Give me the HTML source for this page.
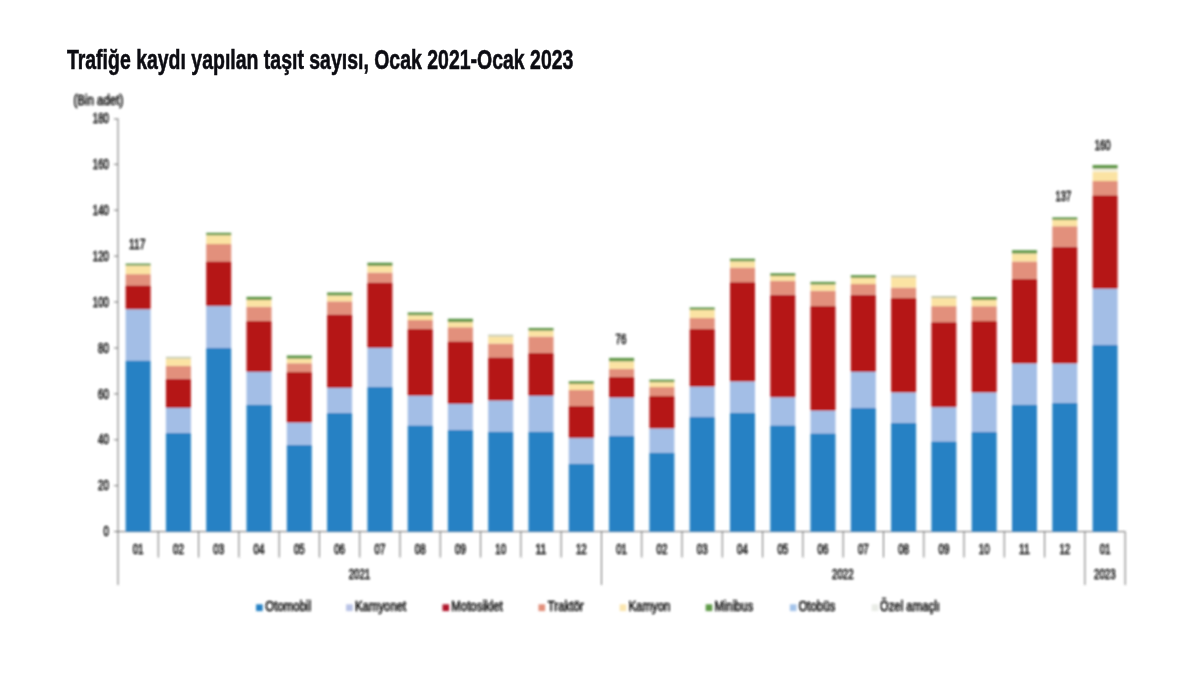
<!DOCTYPE html>
<html lang="tr"><head><meta charset="utf-8">
<title>Trafiğe kaydı yapılan taşıt sayısı</title>
<style>
html,body{margin:0;padding:0;background:#fff;}
body{width:1200px;height:675px;overflow:hidden;}
svg{display:block;}
text{font-family:"Liberation Sans",sans-serif;fill:#111111;}
.t{font-size:14px;stroke:#111;stroke-width:0.7px;}
.ttl{font-size:27px;font-weight:bold;fill:#0c0c12;stroke:#0c0c12;stroke-width:0.6px;}
</style></head><body>
<svg width="1200" height="675" viewBox="0 0 1200 675">
<rect width="1200" height="675" fill="#ffffff"/>
<text class="ttl" x="66.9" y="68.7" text-anchor="start" textLength="506.5" lengthAdjust="spacingAndGlyphs">Trafiğe kaydı yapılan taşıt sayısı, Ocak 2021-Ocak 2023</text>
<g id="chart" filter="url(#soft)">
<text class="t" x="73.4" y="105.1" text-anchor="start" textLength="50.0" lengthAdjust="spacingAndGlyphs">(Bin adet)</text>
<g stroke="#585858" stroke-width="0.85" fill="none">
<line x1="118.0" y1="118.6" x2="118.0" y2="585"/>
<line x1="114.0" y1="531.6" x2="118.0" y2="531.6"/>
<line x1="114.0" y1="485.7" x2="118.0" y2="485.7"/>
<line x1="114.0" y1="439.8" x2="118.0" y2="439.8"/>
<line x1="114.0" y1="393.9" x2="118.0" y2="393.9"/>
<line x1="114.0" y1="348.0" x2="118.0" y2="348.0"/>
<line x1="114.0" y1="302.0" x2="118.0" y2="302.0"/>
<line x1="114.0" y1="256.1" x2="118.0" y2="256.1"/>
<line x1="114.0" y1="210.2" x2="118.0" y2="210.2"/>
<line x1="114.0" y1="164.3" x2="118.0" y2="164.3"/>
<line x1="114.0" y1="119.0" x2="118.0" y2="119.0"/>
<line x1="118.0" y1="531.6" x2="1125.2" y2="531.6"/>
<line x1="158.3" y1="531.6" x2="158.3" y2="557.5"/>
<line x1="198.6" y1="531.6" x2="198.6" y2="557.5"/>
<line x1="238.9" y1="531.6" x2="238.9" y2="557.5"/>
<line x1="279.2" y1="531.6" x2="279.2" y2="557.5"/>
<line x1="319.4" y1="531.6" x2="319.4" y2="557.5"/>
<line x1="359.7" y1="531.6" x2="359.7" y2="557.5"/>
<line x1="400.0" y1="531.6" x2="400.0" y2="557.5"/>
<line x1="440.3" y1="531.6" x2="440.3" y2="557.5"/>
<line x1="480.6" y1="531.6" x2="480.6" y2="557.5"/>
<line x1="520.9" y1="531.6" x2="520.9" y2="557.5"/>
<line x1="561.2" y1="531.6" x2="561.2" y2="557.5"/>
<line x1="601.5" y1="531.6" x2="601.5" y2="585.0"/>
<line x1="641.7" y1="531.6" x2="641.7" y2="557.5"/>
<line x1="682.0" y1="531.6" x2="682.0" y2="557.5"/>
<line x1="722.3" y1="531.6" x2="722.3" y2="557.5"/>
<line x1="762.6" y1="531.6" x2="762.6" y2="557.5"/>
<line x1="802.9" y1="531.6" x2="802.9" y2="557.5"/>
<line x1="843.2" y1="531.6" x2="843.2" y2="557.5"/>
<line x1="883.5" y1="531.6" x2="883.5" y2="557.5"/>
<line x1="923.8" y1="531.6" x2="923.8" y2="557.5"/>
<line x1="964.0" y1="531.6" x2="964.0" y2="557.5"/>
<line x1="1004.3" y1="531.6" x2="1004.3" y2="557.5"/>
<line x1="1044.6" y1="531.6" x2="1044.6" y2="557.5"/>
<line x1="1084.9" y1="531.6" x2="1084.9" y2="585.0"/>
<line x1="1125.2" y1="531.6" x2="1125.2" y2="585.0"/>
</g>
<rect x="125.6" y="360.4" width="25.0" height="171.2" fill="#2581c4"/>
<rect x="125.6" y="309.3" width="25.0" height="51.1" fill="#a3bee6"/>
<rect x="125.6" y="285.3" width="25.0" height="24.0" fill="#b51617"/>
<rect x="125.6" y="274.1" width="25.0" height="11.2" fill="#e2907c"/>
<rect x="125.6" y="265.6" width="25.0" height="8.5" fill="#fbe3a3"/>
<rect x="125.6" y="263.6" width="25.0" height="2.0" fill="#5f9646"/>
<rect x="165.9" y="432.8" width="25.0" height="98.8" fill="#2581c4"/>
<rect x="165.9" y="408.0" width="25.0" height="24.8" fill="#a3bee6"/>
<rect x="165.9" y="378.7" width="25.0" height="29.3" fill="#b51617"/>
<rect x="165.9" y="365.9" width="25.0" height="12.8" fill="#e2907c"/>
<rect x="165.9" y="358.6" width="25.0" height="7.3" fill="#fbe3a3"/>
<rect x="165.9" y="356.8" width="25.0" height="1.8" fill="#c3c8ac"/>
<rect x="206.2" y="348.0" width="25.0" height="183.6" fill="#2581c4"/>
<rect x="206.2" y="306.1" width="25.0" height="41.9" fill="#a3bee6"/>
<rect x="206.2" y="261.3" width="25.0" height="44.8" fill="#b51617"/>
<rect x="206.2" y="244.0" width="25.0" height="17.3" fill="#e2907c"/>
<rect x="206.2" y="235.2" width="25.0" height="8.8" fill="#fbe3a3"/>
<rect x="206.2" y="232.8" width="25.0" height="2.4" fill="#5f9646"/>
<rect x="246.5" y="404.5" width="25.0" height="127.1" fill="#2581c4"/>
<rect x="246.5" y="372.0" width="25.0" height="32.5" fill="#a3bee6"/>
<rect x="246.5" y="320.8" width="25.0" height="51.2" fill="#b51617"/>
<rect x="246.5" y="306.7" width="25.0" height="14.1" fill="#e2907c"/>
<rect x="246.5" y="300.0" width="25.0" height="6.7" fill="#fbe3a3"/>
<rect x="246.5" y="296.8" width="25.0" height="3.2" fill="#5f9646"/>
<rect x="286.8" y="444.8" width="25.0" height="86.8" fill="#2581c4"/>
<rect x="286.8" y="422.7" width="25.0" height="22.1" fill="#a3bee6"/>
<rect x="286.8" y="372.0" width="25.0" height="50.7" fill="#b51617"/>
<rect x="286.8" y="363.2" width="25.0" height="8.8" fill="#e2907c"/>
<rect x="286.8" y="358.7" width="25.0" height="4.5" fill="#fbe3a3"/>
<rect x="286.8" y="355.5" width="25.0" height="3.2" fill="#5f9646"/>
<rect x="327.1" y="412.8" width="25.0" height="118.8" fill="#2581c4"/>
<rect x="327.1" y="388.0" width="25.0" height="24.8" fill="#a3bee6"/>
<rect x="327.1" y="314.4" width="25.0" height="73.6" fill="#b51617"/>
<rect x="327.1" y="301.3" width="25.0" height="13.1" fill="#e2907c"/>
<rect x="327.1" y="295.5" width="25.0" height="5.8" fill="#fbe3a3"/>
<rect x="327.1" y="292.5" width="25.0" height="3.0" fill="#5f9646"/>
<rect x="367.4" y="386.7" width="25.0" height="144.9" fill="#2581c4"/>
<rect x="367.4" y="348.0" width="25.0" height="38.7" fill="#a3bee6"/>
<rect x="367.4" y="282.4" width="25.0" height="65.6" fill="#b51617"/>
<rect x="367.4" y="272.5" width="25.0" height="9.9" fill="#e2907c"/>
<rect x="367.4" y="265.9" width="25.0" height="6.6" fill="#fbe3a3"/>
<rect x="367.4" y="262.7" width="25.0" height="3.2" fill="#5f9646"/>
<rect x="407.7" y="425.3" width="25.0" height="106.3" fill="#2581c4"/>
<rect x="407.7" y="395.8" width="25.0" height="29.5" fill="#a3bee6"/>
<rect x="407.7" y="328.8" width="25.0" height="67.0" fill="#b51617"/>
<rect x="407.7" y="320.0" width="25.0" height="8.8" fill="#e2907c"/>
<rect x="407.7" y="315.2" width="25.0" height="4.8" fill="#fbe3a3"/>
<rect x="407.7" y="312.5" width="25.0" height="2.7" fill="#5f9646"/>
<rect x="447.9" y="429.9" width="25.0" height="101.7" fill="#2581c4"/>
<rect x="447.9" y="404.0" width="25.0" height="25.9" fill="#a3bee6"/>
<rect x="447.9" y="341.3" width="25.0" height="62.7" fill="#b51617"/>
<rect x="447.9" y="327.2" width="25.0" height="14.1" fill="#e2907c"/>
<rect x="447.9" y="322.1" width="25.0" height="5.1" fill="#fbe3a3"/>
<rect x="447.9" y="318.7" width="25.0" height="3.4" fill="#5f9646"/>
<rect x="488.2" y="431.5" width="25.0" height="100.1" fill="#2581c4"/>
<rect x="488.2" y="400.6" width="25.0" height="30.9" fill="#a3bee6"/>
<rect x="488.2" y="357.3" width="25.0" height="43.3" fill="#b51617"/>
<rect x="488.2" y="343.5" width="25.0" height="13.8" fill="#e2907c"/>
<rect x="488.2" y="336.5" width="25.0" height="7.0" fill="#fbe3a3"/>
<rect x="488.2" y="334.7" width="25.0" height="1.8" fill="#c3c8ac"/>
<rect x="528.5" y="431.5" width="25.0" height="100.1" fill="#2581c4"/>
<rect x="528.5" y="396.0" width="25.0" height="35.5" fill="#a3bee6"/>
<rect x="528.5" y="352.8" width="25.0" height="43.2" fill="#b51617"/>
<rect x="528.5" y="336.5" width="25.0" height="16.3" fill="#e2907c"/>
<rect x="528.5" y="330.7" width="25.0" height="5.8" fill="#fbe3a3"/>
<rect x="528.5" y="328.0" width="25.0" height="2.7" fill="#5f9646"/>
<rect x="568.8" y="463.5" width="25.0" height="68.1" fill="#2581c4"/>
<rect x="568.8" y="438.1" width="25.0" height="25.4" fill="#a3bee6"/>
<rect x="568.8" y="405.9" width="25.0" height="32.2" fill="#b51617"/>
<rect x="568.8" y="390.0" width="25.0" height="15.9" fill="#e2907c"/>
<rect x="568.8" y="384.0" width="25.0" height="6.0" fill="#fbe3a3"/>
<rect x="568.8" y="381.3" width="25.0" height="2.7" fill="#5f9646"/>
<rect x="609.1" y="436.0" width="25.0" height="95.6" fill="#2581c4"/>
<rect x="609.1" y="397.6" width="25.0" height="38.4" fill="#a3bee6"/>
<rect x="609.1" y="376.8" width="25.0" height="20.8" fill="#b51617"/>
<rect x="609.1" y="368.8" width="25.0" height="8.0" fill="#e2907c"/>
<rect x="609.1" y="361.3" width="25.0" height="7.5" fill="#fbe3a3"/>
<rect x="609.1" y="357.9" width="25.0" height="3.4" fill="#5f9646"/>
<rect x="649.4" y="452.5" width="25.0" height="79.1" fill="#2581c4"/>
<rect x="649.4" y="428.5" width="25.0" height="24.0" fill="#a3bee6"/>
<rect x="649.4" y="396.0" width="25.0" height="32.5" fill="#b51617"/>
<rect x="649.4" y="387.0" width="25.0" height="9.0" fill="#e2907c"/>
<rect x="649.4" y="382.1" width="25.0" height="4.9" fill="#fbe3a3"/>
<rect x="649.4" y="379.7" width="25.0" height="2.4" fill="#5f9646"/>
<rect x="689.7" y="417.0" width="25.0" height="114.6" fill="#2581c4"/>
<rect x="689.7" y="386.7" width="25.0" height="30.3" fill="#a3bee6"/>
<rect x="689.7" y="328.8" width="25.0" height="57.9" fill="#b51617"/>
<rect x="689.7" y="317.9" width="25.0" height="10.9" fill="#e2907c"/>
<rect x="689.7" y="309.9" width="25.0" height="8.0" fill="#fbe3a3"/>
<rect x="689.7" y="307.5" width="25.0" height="2.4" fill="#5f9646"/>
<rect x="730.0" y="412.6" width="25.0" height="119.0" fill="#2581c4"/>
<rect x="730.0" y="381.5" width="25.0" height="31.1" fill="#a3bee6"/>
<rect x="730.0" y="282.1" width="25.0" height="99.4" fill="#b51617"/>
<rect x="730.0" y="267.5" width="25.0" height="14.6" fill="#e2907c"/>
<rect x="730.0" y="261.3" width="25.0" height="6.2" fill="#fbe3a3"/>
<rect x="730.0" y="258.7" width="25.0" height="2.6" fill="#5f9646"/>
<rect x="770.3" y="425.3" width="25.0" height="106.3" fill="#2581c4"/>
<rect x="770.3" y="397.3" width="25.0" height="28.0" fill="#a3bee6"/>
<rect x="770.3" y="294.7" width="25.0" height="102.6" fill="#b51617"/>
<rect x="770.3" y="280.8" width="25.0" height="13.9" fill="#e2907c"/>
<rect x="770.3" y="276.0" width="25.0" height="4.8" fill="#fbe3a3"/>
<rect x="770.3" y="273.3" width="25.0" height="2.7" fill="#5f9646"/>
<rect x="810.5" y="433.3" width="25.0" height="98.3" fill="#2581c4"/>
<rect x="810.5" y="410.7" width="25.0" height="22.6" fill="#a3bee6"/>
<rect x="810.5" y="305.9" width="25.0" height="104.8" fill="#b51617"/>
<rect x="810.5" y="290.7" width="25.0" height="15.2" fill="#e2907c"/>
<rect x="810.5" y="284.5" width="25.0" height="6.2" fill="#fbe3a3"/>
<rect x="810.5" y="281.9" width="25.0" height="2.6" fill="#5f9646"/>
<rect x="850.8" y="408.0" width="25.0" height="123.6" fill="#2581c4"/>
<rect x="850.8" y="372.0" width="25.0" height="36.0" fill="#a3bee6"/>
<rect x="850.8" y="294.7" width="25.0" height="77.3" fill="#b51617"/>
<rect x="850.8" y="284.0" width="25.0" height="10.7" fill="#e2907c"/>
<rect x="850.8" y="277.9" width="25.0" height="6.1" fill="#fbe3a3"/>
<rect x="850.8" y="275.2" width="25.0" height="2.7" fill="#5f9646"/>
<rect x="891.1" y="422.7" width="25.0" height="108.9" fill="#2581c4"/>
<rect x="891.1" y="392.5" width="25.0" height="30.2" fill="#a3bee6"/>
<rect x="891.1" y="297.9" width="25.0" height="94.6" fill="#b51617"/>
<rect x="891.1" y="287.5" width="25.0" height="10.4" fill="#e2907c"/>
<rect x="891.1" y="277.3" width="25.0" height="10.2" fill="#fbe3a3"/>
<rect x="891.1" y="275.5" width="25.0" height="1.8" fill="#c3c8ac"/>
<rect x="931.4" y="441.3" width="25.0" height="90.3" fill="#2581c4"/>
<rect x="931.4" y="407.2" width="25.0" height="34.1" fill="#a3bee6"/>
<rect x="931.4" y="322.1" width="25.0" height="85.1" fill="#b51617"/>
<rect x="931.4" y="306.1" width="25.0" height="16.0" fill="#e2907c"/>
<rect x="931.4" y="298.1" width="25.0" height="8.0" fill="#fbe3a3"/>
<rect x="931.4" y="296.0" width="25.0" height="2.1" fill="#c3c8ac"/>
<rect x="971.7" y="432.0" width="25.0" height="99.6" fill="#2581c4"/>
<rect x="971.7" y="392.5" width="25.0" height="39.5" fill="#a3bee6"/>
<rect x="971.7" y="321.0" width="25.0" height="71.5" fill="#b51617"/>
<rect x="971.7" y="306.2" width="25.0" height="14.8" fill="#e2907c"/>
<rect x="971.7" y="300.0" width="25.0" height="6.2" fill="#fbe3a3"/>
<rect x="971.7" y="297.0" width="25.0" height="3.0" fill="#5f9646"/>
<rect x="1012.0" y="404.5" width="25.0" height="127.1" fill="#2581c4"/>
<rect x="1012.0" y="363.5" width="25.0" height="41.0" fill="#a3bee6"/>
<rect x="1012.0" y="278.8" width="25.0" height="84.7" fill="#b51617"/>
<rect x="1012.0" y="261.4" width="25.0" height="17.4" fill="#e2907c"/>
<rect x="1012.0" y="253.5" width="25.0" height="7.9" fill="#fbe3a3"/>
<rect x="1012.0" y="250.2" width="25.0" height="3.3" fill="#5f9646"/>
<rect x="1052.3" y="402.7" width="25.0" height="128.9" fill="#2581c4"/>
<rect x="1052.3" y="363.5" width="25.0" height="39.2" fill="#a3bee6"/>
<rect x="1052.3" y="246.7" width="25.0" height="116.8" fill="#b51617"/>
<rect x="1052.3" y="226.2" width="25.0" height="20.5" fill="#e2907c"/>
<rect x="1052.3" y="219.9" width="25.0" height="6.3" fill="#fbe3a3"/>
<rect x="1052.3" y="217.4" width="25.0" height="2.5" fill="#5f9646"/>
<rect x="1092.6" y="345.0" width="25.0" height="186.6" fill="#2581c4"/>
<rect x="1092.6" y="288.8" width="25.0" height="56.2" fill="#a3bee6"/>
<rect x="1092.6" y="195.2" width="25.0" height="93.6" fill="#b51617"/>
<rect x="1092.6" y="181.0" width="25.0" height="14.2" fill="#e2907c"/>
<rect x="1092.6" y="171.6" width="25.0" height="9.4" fill="#fbe3a3"/>
<rect x="1092.6" y="168.7" width="25.0" height="2.9" fill="#f4f0dc"/>
<rect x="1092.6" y="165.0" width="25.0" height="3.7" fill="#5f9646"/>
<text class="t" x="108.8" y="536.2" text-anchor="end" textLength="5.4" lengthAdjust="spacingAndGlyphs">0</text>
<text class="t" x="108.8" y="490.3" text-anchor="end" textLength="10.8" lengthAdjust="spacingAndGlyphs">20</text>
<text class="t" x="108.8" y="444.4" text-anchor="end" textLength="10.8" lengthAdjust="spacingAndGlyphs">40</text>
<text class="t" x="108.8" y="398.5" text-anchor="end" textLength="10.8" lengthAdjust="spacingAndGlyphs">60</text>
<text class="t" x="108.8" y="352.6" text-anchor="end" textLength="10.8" lengthAdjust="spacingAndGlyphs">80</text>
<text class="t" x="108.8" y="306.6" text-anchor="end" textLength="16.0" lengthAdjust="spacingAndGlyphs">100</text>
<text class="t" x="108.8" y="260.7" text-anchor="end" textLength="16.0" lengthAdjust="spacingAndGlyphs">120</text>
<text class="t" x="108.8" y="214.8" text-anchor="end" textLength="16.0" lengthAdjust="spacingAndGlyphs">140</text>
<text class="t" x="108.8" y="168.9" text-anchor="end" textLength="16.0" lengthAdjust="spacingAndGlyphs">160</text>
<text class="t" x="108.8" y="123.0" text-anchor="end" textLength="16.0" lengthAdjust="spacingAndGlyphs">180</text>
<text class="t" x="138.1" y="553.6" text-anchor="middle" textLength="10.8" lengthAdjust="spacingAndGlyphs">01</text>
<text class="t" x="178.4" y="553.6" text-anchor="middle" textLength="10.8" lengthAdjust="spacingAndGlyphs">02</text>
<text class="t" x="218.7" y="553.6" text-anchor="middle" textLength="10.8" lengthAdjust="spacingAndGlyphs">03</text>
<text class="t" x="259.0" y="553.6" text-anchor="middle" textLength="10.8" lengthAdjust="spacingAndGlyphs">04</text>
<text class="t" x="299.3" y="553.6" text-anchor="middle" textLength="10.8" lengthAdjust="spacingAndGlyphs">05</text>
<text class="t" x="339.6" y="553.6" text-anchor="middle" textLength="10.8" lengthAdjust="spacingAndGlyphs">06</text>
<text class="t" x="379.9" y="553.6" text-anchor="middle" textLength="10.8" lengthAdjust="spacingAndGlyphs">07</text>
<text class="t" x="420.2" y="553.6" text-anchor="middle" textLength="10.8" lengthAdjust="spacingAndGlyphs">08</text>
<text class="t" x="460.4" y="553.6" text-anchor="middle" textLength="10.8" lengthAdjust="spacingAndGlyphs">09</text>
<text class="t" x="500.7" y="553.6" text-anchor="middle" textLength="10.8" lengthAdjust="spacingAndGlyphs">10</text>
<text class="t" x="541.0" y="553.6" text-anchor="middle" textLength="10.8" lengthAdjust="spacingAndGlyphs">11</text>
<text class="t" x="581.3" y="553.6" text-anchor="middle" textLength="10.8" lengthAdjust="spacingAndGlyphs">12</text>
<text class="t" x="621.6" y="553.6" text-anchor="middle" textLength="10.8" lengthAdjust="spacingAndGlyphs">01</text>
<text class="t" x="661.9" y="553.6" text-anchor="middle" textLength="10.8" lengthAdjust="spacingAndGlyphs">02</text>
<text class="t" x="702.2" y="553.6" text-anchor="middle" textLength="10.8" lengthAdjust="spacingAndGlyphs">03</text>
<text class="t" x="742.5" y="553.6" text-anchor="middle" textLength="10.8" lengthAdjust="spacingAndGlyphs">04</text>
<text class="t" x="782.8" y="553.6" text-anchor="middle" textLength="10.8" lengthAdjust="spacingAndGlyphs">05</text>
<text class="t" x="823.0" y="553.6" text-anchor="middle" textLength="10.8" lengthAdjust="spacingAndGlyphs">06</text>
<text class="t" x="863.3" y="553.6" text-anchor="middle" textLength="10.8" lengthAdjust="spacingAndGlyphs">07</text>
<text class="t" x="903.6" y="553.6" text-anchor="middle" textLength="10.8" lengthAdjust="spacingAndGlyphs">08</text>
<text class="t" x="943.9" y="553.6" text-anchor="middle" textLength="10.8" lengthAdjust="spacingAndGlyphs">09</text>
<text class="t" x="984.2" y="553.6" text-anchor="middle" textLength="10.8" lengthAdjust="spacingAndGlyphs">10</text>
<text class="t" x="1024.5" y="553.6" text-anchor="middle" textLength="10.8" lengthAdjust="spacingAndGlyphs">11</text>
<text class="t" x="1064.8" y="553.6" text-anchor="middle" textLength="10.8" lengthAdjust="spacingAndGlyphs">12</text>
<text class="t" x="1105.1" y="553.6" text-anchor="middle" textLength="10.8" lengthAdjust="spacingAndGlyphs">01</text>
<text class="t" x="359.4" y="579.4" text-anchor="middle" textLength="21.4" lengthAdjust="spacingAndGlyphs">2021</text>
<text class="t" x="842.8" y="579.4" text-anchor="middle" textLength="21.4" lengthAdjust="spacingAndGlyphs">2022</text>
<text class="t" x="1104.8" y="579.4" text-anchor="middle" textLength="21.4" lengthAdjust="spacingAndGlyphs">2023</text>
<text class="t" x="137.3" y="249.0" text-anchor="middle" textLength="16.4" lengthAdjust="spacingAndGlyphs">117</text>
<text class="t" x="621.0" y="344.0" text-anchor="middle" textLength="10.8" lengthAdjust="spacingAndGlyphs">76</text>
<text class="t" x="1063.4" y="200.8" text-anchor="middle" textLength="15.8" lengthAdjust="spacingAndGlyphs">137</text>
<text class="t" x="1102.6" y="149.8" text-anchor="middle" textLength="15.8" lengthAdjust="spacingAndGlyphs">160</text>
<rect x="256.1" y="604.3" width="6.6" height="6.8" fill="#2581c4"/>
<text class="t" x="265.3" y="611.3" text-anchor="start" textLength="45.8" lengthAdjust="spacingAndGlyphs">Otomobil</text>
<rect x="346.1" y="604.3" width="6.6" height="6.8" fill="#b9c3e6"/>
<text class="t" x="355.0" y="611.3" text-anchor="start" textLength="51.3" lengthAdjust="spacingAndGlyphs">Kamyonet</text>
<rect x="442.5" y="604.3" width="6.6" height="6.8" fill="#b0122c"/>
<text class="t" x="451.3" y="611.3" text-anchor="start" textLength="51.4" lengthAdjust="spacingAndGlyphs">Motosiklet</text>
<rect x="538.5" y="604.3" width="6.6" height="6.8" fill="#e2907c"/>
<text class="t" x="547.8" y="611.3" text-anchor="start" textLength="35.8" lengthAdjust="spacingAndGlyphs">Traktör</text>
<rect x="619.7" y="604.3" width="6.6" height="6.8" fill="#fbe6b0"/>
<text class="t" x="628.4" y="611.3" text-anchor="start" textLength="42.1" lengthAdjust="spacingAndGlyphs">Kamyon</text>
<rect x="705.7" y="604.3" width="6.6" height="6.8" fill="#5f9a46"/>
<text class="t" x="714.5" y="611.3" text-anchor="start" textLength="38.6" lengthAdjust="spacingAndGlyphs">Minibus</text>
<rect x="789.9" y="604.3" width="6.6" height="6.8" fill="#a4c4ea"/>
<text class="t" x="798.4" y="611.3" text-anchor="start" textLength="36.8" lengthAdjust="spacingAndGlyphs">Otobüs</text>
<rect x="871.7" y="604.3" width="6.6" height="6.8" fill="#e9ece6"/>
<text class="t" x="879.8" y="611.3" text-anchor="start" textLength="60.1" lengthAdjust="spacingAndGlyphs">Özel amaçlı</text>
</g>
<defs><filter id="soft" x="0" y="0" width="1200" height="675" filterUnits="userSpaceOnUse"><feGaussianBlur stdDeviation="0.8"/></filter></defs>
</svg>
</body></html>
